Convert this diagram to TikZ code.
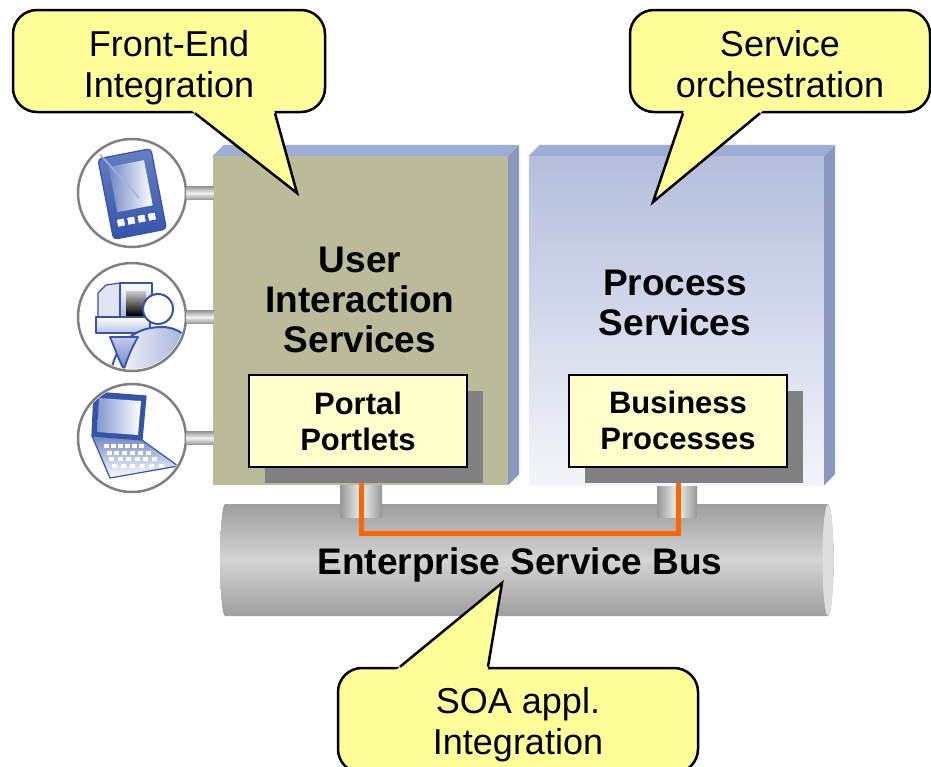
\documentclass[tikz,border=0pt]{standalone}
\usepackage{fontspec}
\setmainfont{Liberation Sans}
\usetikzlibrary{calc}
\definecolor{bubbleyellow}{RGB}{255,255,153}
\definecolor{innerfill}{RGB}{255,255,204}
\definecolor{uisface}{RGB}{187,187,153}
\definecolor{topface}{RGB}{156,174,214}
\definecolor{sideface}{RGB}{136,152,191}
\definecolor{pstop}{RGB}{180,190,220}
\definecolor{psbottom}{RGB}{244,245,250}
\definecolor{shadowgray}{RGB}{128,128,128}
\definecolor{esborange}{RGB}{255,102,0}
\definecolor{busgray}{RGB}{158,158,158}
\definecolor{buslight}{RGB}{212,212,212}
\definecolor{buscap}{RGB}{222,222,222}
\definecolor{pipegray}{RGB}{150,150,150}
\definecolor{iconblue}{RGB}{52,84,172}
\tikzstyle{bubble} = [draw,line width=2.5pt,fill=bubbleyellow,rounded corners=24pt,inner sep=0,text depth=0pt,align=center,font=\fontsize{36}{41}\selectfont]
\tikzstyle{tail} = [line width=2.5pt,line join=miter]
\tikzstyle{face} = [inner sep=0,minimum width=295pt,minimum height=329pt]
\tikzstyle{boxtext} = [inner sep=0,align=center,font=\bfseries\fontsize{37}{40}\selectfont]
\tikzstyle{inbox} = [draw,line width=2pt,fill=innerfill,inner sep=0,minimum width=218pt,minimum height=92pt,align=center,font=\bfseries\fontsize{31}{36}\selectfont]
\tikzstyle{shadowbox} = [fill=shadowgray,inner sep=0,minimum width=218pt,minimum height=92pt]
\tikzstyle{device} = [circle,draw=gray,line width=2.5pt,fill=white,inner sep=0,minimum size=108pt]
\tikzstyle{pipe} = [left color=pipegray,right color=pipegray,middle color=gray!10]
\tikzstyle{stub} = [top color=pipegray,bottom color=pipegray,middle color=gray!10]
\tikzstyle{esb} = [draw=esborange,line width=5pt]
\tikzstyle{icon} = [draw=iconblue,line width=1.2pt,line join=round]
\def \slant {11}

\begin{document}
\begin{tikzpicture}[x=1pt,y=-1pt]
  \useasboundingbox (0,0) rectangle (931,766);
  \clip (0,0) rectangle (931,766);

  % the bus
  \shade[top color=busgray,bottom color=busgray,middle color=buslight]
    (225,504) -- (828,504) arc[start angle=-90,end angle=90,x radius=5.5,y radius=56]
    -- (225,616) arc[start angle=90,end angle=270,x radius=5,y radius=56] -- cycle;
  \fill[buscap] (828,560) ellipse[x radius=5.5,y radius=56];
  \shade[pipe] (340,480) rectangle (382,517);
  \shade[pipe] (657,480) rectangle (697,517);
  \node[boxtext,anchor=base] (esbtxt) at (520,574) {Enterprise Service Bus};

  % service layers
  \node[face,fill=uisface] (uis) at (360.5,320.5) {};
  \fill[topface] (uis.north west) -- ++(\slant,-\slant) -- ($(uis.north east)+(\slant,-\slant)$) -- (uis.north east) -- cycle;
  \fill[sideface] (uis.north east) -- ++(\slant,-\slant) -- ($(uis.south east)+(\slant,-\slant)$) -- (uis.south east) -- cycle;
  \node[face,top color=pstop,bottom color=psbottom] (ps) at (676.5,320.5) {};
  \fill[topface] (ps.north west) -- ++(\slant,-\slant) -- ($(ps.north east)+(\slant,-\slant)$) -- (ps.north east) -- cycle;
  \fill[sideface] (ps.north east) -- ++(\slant,-\slant) -- ($(ps.south east)+(\slant,-\slant)$) -- (ps.south east) -- cycle;
  \node[boxtext] (uistxt) at (360,300) {User\\Interaction\\Services};
  \node[boxtext] (pstxt) at (675,302.5) {Process\\Services};

  \coordinate (pp) at (358,421);
  \coordinate (bb) at (678,420.5);
  \draw[esb] ($(pp)+(3,46)$) -- ++(0,66) -| ($(bb)+(0,46)$);
  \node[shadowbox] (portalsh) at ($(pp)+(16,16)$) {};
  \node[shadowbox] (bpsh) at ($(bb)+(16,16)$) {};
  \node[inbox] (portal) at (pp) {Portal\\Portlets};
  \node[inbox] (bp) at (bb) {Business\\Processes};

  % devices
  \node[device] (pda) at (132,193) {};
  \node[device] (pc) at (132,317) {};
  \node[device] (laptop) at (132,438) {};
  \foreach \d in {pda,pc,laptop}
    \shade[stub] ($(\d.east)+(-1,-6.5)$) rectangle ($(uis.west |- \d)+(1,6.5)$);

  \begin{scope}[shift={(pda.center)},rotate=11]
    \draw[icon,rounded corners=4pt,top color=iconblue!75,bottom color=iconblue] (-27,-40) rectangle (27,42);
    \shade[left color=iconblue!70,right color=white] (-18,-30) rectangle (18,16);
    \foreach \i in {0,...,3}
      \draw[icon,line width=0.8pt,fill=white] (-20.5+10.5*\i,23) rectangle ++(8,8);
    \draw[line width=1.5pt,iconblue!45] (-24,-44) -- (6,6);
  \end{scope}

  \begin{scope}[shift={(pc.center)}]
    \clip (0,0) circle[radius=52pt];
    \draw[icon,fill=iconblue!15] (-34,-24) -- (-26,-32) -- (-12,-34) -- (-12,2) -- (-34,2) -- cycle;
    \draw[icon,top color=white,bottom color=iconblue!45] (-12,-34) rectangle (20,4);
    \shade[top color=gray!40,bottom color=black] (-6,-26) rectangle (14,-2);
    \draw[icon,top color=white,bottom color=iconblue!35] (-36,0) rectangle (18,16);
    \draw[icon,line width=2pt,left color=white,right color=iconblue!55]
      (-22,60) .. controls (-16,20) and (8,10) .. (30,10) .. controls (52,10) and (70,30) .. (70,60) -- cycle;
    \draw[icon,line width=1.8pt,top color=iconblue!30,bottom color=iconblue!70]
      (-22,20) .. controls (-16,34) and (-12,46) .. (-8,52) .. controls (-4,40) and (0,30) .. (6,20) -- cycle;
    \draw[icon,line width=2pt,fill=white] (26,-8) circle[radius=15pt];
  \end{scope}

  \begin{scope}[shift={(laptop.center)}]
    \clip (0,0) circle[radius=52pt];
    \draw[icon,fill=iconblue] (-38,-46) -- (14,-42) -- (10,2) -- (-40,-2) -- cycle;
    \shade[left color=iconblue!60,right color=white] (-33,-40) -- (9,-37) -- (6,-3) -- (-35,-6) -- cycle;
    \draw[icon,top color=iconblue!70,bottom color=white] (-40,-2) -- (10,2) -- (46,28) -- (-22,40) -- cycle;
    \foreach \r in {0,...,3}
      \foreach \c in {0,...,5}
        \fill[white] (-28+2.5*\r+\c*7+\c*0.8*\r,6+6.5*\r) rectangle ++(5,4);
  \end{scope}

  % callouts
  \node[bubble,text height=73pt,minimum width=312pt,minimum height=102pt] (fe) at (169,61) {Front-End\\Integration};
  \coordinate (fetip) at (297,193);
  \coordinate (fea) at ($(fe.south)+(26,0)$);
  \coordinate (feb) at ($(fe.south)+(106,0)$);
  \fill[bubbleyellow] (fetip) -- ($(fetip)!1.06!(fea)$) -- ($(fetip)!1.06!(feb)$) -- cycle;
  \draw[tail] (fea) -- (fetip) -- (feb);

  \node[bubble,text height=73pt,minimum width=300pt,minimum height=102pt] (so) at (780,61) {Service\\orchestration};
  \coordinate (sotip) at (653,202);
  \coordinate (soa) at ($(so.south)+(-97,0)$);
  \coordinate (sob) at ($(so.south)+(-20,0)$);
  \fill[bubbleyellow] (sotip) -- ($(sotip)!1.06!(soa)$) -- ($(sotip)!1.06!(sob)$) -- cycle;
  \draw[tail] (soa) -- (sotip) -- (sob);

  \node[bubble,minimum width=360pt,minimum height=105pt] (ai) at (518,720.5) {SOA appl.\\Integration};
  \coordinate (aitip) at (502,583);
  \coordinate (aia) at ($(ai.north)+(-118,0)$);
  \coordinate (aib) at ($(ai.north)+(-30,0)$);
  \fill[bubbleyellow] (aitip) -- ($(aitip)!1.06!(aia)$) -- ($(aitip)!1.06!(aib)$) -- cycle;
  \draw[tail] (aia) -- (aitip) -- (aib);
\end{tikzpicture}
\end{document}
